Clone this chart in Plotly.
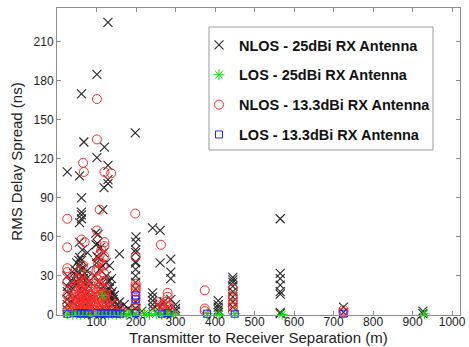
import plotly.graph_objects as go

# NLOS - 25dBi RX Antenna (black x)
nlos25_x = [129, 101, 62, 198, 68, 120, 101, 129, 26, 57, 129, 129, 119, 62, 116, 62, 62, 62, 57, 98,
            242, 261, 200, 64, 77, 158, 57, 133, 199, 199, 199, 261, 288, 288, 288,
            565, 565, 565, 565, 565, 565, 565, 565, 725, 725, 926, 926,
            445, 445, 445, 445, 445, 445, 445, 445, 408, 408, 408, 408, 408,
            242, 242, 242, 242, 242, 158, 158, 300, 300, 300,
            26, 26, 26, 26, 26, 26, 40, 45, 50, 50, 55, 57, 60, 62, 65, 66, 68, 70, 72, 75, 78, 80,
            85, 90, 95, 100, 101, 102, 105, 108, 110, 112, 115, 120, 125, 128, 130, 135, 138, 140,
            145, 150, 155, 165, 170, 180, 190, 199, 199, 199, 199, 199, 199, 215, 255, 260, 270,
            280, 288, 48, 52, 58, 63, 67, 73, 105, 110, 118, 124, 133, 137, 99, 104,
            30, 34, 38, 42, 46, 50, 54, 58, 62, 66, 70, 74, 78, 82, 86, 44, 56, 64, 76,
            112, 116, 120, 124, 128, 132, 136, 140, 144, 148, 122, 134, 142, 199, 199]
nlos25_y = [225, 185, 170, 140, 133, 129, 121, 115, 110, 107, 104, 101, 98, 90, 81, 79, 77, 74, 71, 63,
            67, 65, 60, 50, 48, 47, 56, 38, 56, 50, 41, 40, 43, 33, 28,
            74, 32, 28, 23, 18, 16, 2, 1, 6, 2, 3, 1,
            29, 27, 25, 22, 18, 14, 10, 6, 11, 8, 6, 4, 2,
            17, 14, 11, 8, 5, 10, 6, 8, 5, 3,
            30, 22, 18, 12, 8, 4, 20, 35, 40, 30, 42, 38, 35, 42, 30, 25, 36, 20, 15, 28, 10, 22,
            8, 12, 30, 40, 45, 55, 25, 35, 20, 15, 38, 22, 30, 18, 12, 22, 28, 8,
            15, 5, 4, 3, 8, 5, 3, 35, 30, 25, 20, 10, 5, 3, 8, 6, 10,
            5, 12, 26, 33, 44, 18, 28, 12, 44, 52, 48, 40, 26, 16, 54, 62,
            16, 26, 10, 32, 14, 24, 6, 20, 12, 28, 32, 8, 18, 26, 14, 24, 12, 6, 34,
            24, 12, 18, 8, 26, 20, 14, 18, 10, 6, 4, 16, 12, 40, 48]

# LOS - 25dBi RX Antenna (green asterisk)
los25_x = [26, 40, 50, 60, 70, 80, 100, 110, 116, 120, 130, 140, 150, 160, 175, 185, 200, 221,
           234, 251, 265, 280, 295, 380, 410, 450, 570, 930]
los25_y = [1, 0.5, 1, 0.5, 1, 0.5, 1, 0.5, 15, 1, 0.5, 1, 0.5, 1, 0.5, 1, 0.5, 1,
           0.5, 1, 0.5, 1, 0.5, 1, 0.5, 1, 0.5, 1]

# NLOS - 13.3dBi RX Antenna (red circle)
nlos13_x = [101, 101, 66, 68, 120, 137, 108, 198, 26, 101, 62, 70, 26, 120, 120, 112, 108, 26, 26,
            199, 263, 280, 280, 374, 374, 374, 445, 445, 445, 445, 445, 445, 725, 725,
            26, 26, 26, 26, 40, 45, 50, 50, 52, 55, 57, 58, 60, 62, 62, 65, 66, 68, 70, 70, 72, 75,
            75, 78, 80, 80, 85, 88, 95, 100, 100, 101, 103, 105, 106, 108, 110, 110, 112, 115, 116,
            118, 120, 120, 122, 125, 128, 130, 135, 140, 145, 150, 160, 170,
            199, 199, 199, 199, 199, 199, 199, 199, 199, 255, 260, 265, 270, 275, 280, 285, 290,
            53, 58, 64, 72, 77, 83, 104, 109, 114, 119, 124, 60, 66, 74,
            32, 36, 40, 44, 48, 52, 56, 60, 64, 68, 72, 76, 80, 84, 38, 46, 54, 62, 70, 78, 86,
            42, 50, 58, 66, 74, 82, 95, 98, 102, 106, 110, 114, 118, 122, 96, 104, 112, 120,
            100, 108, 116, 124, 90, 93, 97, 268, 274, 284]
nlos13_y = [166, 135, 117, 110, 110, 109, 81, 78, 74, 65, 58, 56, 52, 56, 53, 50, 46, 36, 33,
            45, 54, 17, 14, 19, 5, 3, 20, 15, 12, 9, 6, 3, 4, 2,
            25, 15, 8, 3, 10, 22, 18, 12, 6, 25, 15, 8, 30, 20, 4, 12, 38, 25, 18, 8, 3, 14,
            22, 6, 30, 12, 20, 5, 10, 28, 18, 6, 40, 35, 24, 14, 30, 4, 20, 10, 26,
            16, 45, 6, 12, 20, 8, 4, 12, 6, 3, 8, 4, 2,
            24, 22, 20, 18, 15, 12, 8, 5, 2, 5, 10, 8, 4, 10, 6, 3, 2,
            28, 34, 16, 26, 10, 16, 14, 22, 4, 32, 16, 2, 6, 2,
            12, 5, 16, 9, 3, 14, 20, 11, 5, 17, 10, 2, 7, 15, 20, 6, 10, 26, 13, 18, 10,
            2, 7, 4, 22, 6, 3, 4, 14, 2, 10, 16, 2, 9, 4, 20, 12, 7, 16,
            34, 42, 38, 10, 8, 16, 24, 6, 2, 7]

# LOS - 13.3dBi RX Antenna (blue square)
los13_x = [26, 50, 60, 70, 80, 100, 110, 120, 130, 140, 150, 160, 199, 199, 199, 265, 280,
           380, 450, 725]
los13_y = [1, 1.5, 1, 1.5, 1, 1.5, 1, 1.5, 1, 1.5, 1, 1, 15, 12, 1.5, 1, 1.5, 1, 1, 1]

x_ticks = [100, 200, 300, 400, 500, 600, 700, 800, 900, 1000]
y_ticks = [0, 30, 60, 90, 120, 150, 180, 210]

FONT = "Arial, Liberation Sans, sans-serif"
TXT = "#222222"

fig = go.Figure()
fig.add_trace(go.Scatter(x=nlos25_x, y=nlos25_y, mode="markers", name="NLOS - 25dBi RX Antenna",
                         marker=dict(symbol="x-thin-open", size=9, line=dict(width=1.1, color="#262626"),
                                     color="#262626"),
                         cliponaxis=False, legendrank=1, legendgroup="a"))
fig.add_trace(go.Scatter(x=nlos13_x, y=nlos13_y, mode="markers", name="NLOS - 13.3dBi RX Antenna",
                         marker=dict(symbol="circle-open", size=9, line=dict(width=1, color="#ff2a2a"),
                                     color="#ff2a2a"),
                         cliponaxis=False, legendrank=3, legendgroup="c"))
fig.add_trace(go.Scatter(x=los25_x, y=los25_y, mode="markers", name="LOS - 25dBi RX Antenna",
                         marker=dict(symbol="asterisk-open", size=9, line=dict(width=1, color="#00e000"),
                                     color="#00e000"),
                         cliponaxis=False, legendrank=2, legendgroup="b"))
fig.add_trace(go.Scatter(x=los13_x, y=los13_y, mode="markers", name="LOS - 13.3dBi RX Antenna",
                         marker=dict(symbol="square-open", size=7, line=dict(width=1, color="#2020ff"),
                                     color="#2020ff"),
                         cliponaxis=False, legendrank=4, legendgroup="d"))

axis_common = dict(showline=True, linecolor="#8c8c8c", linewidth=1, mirror="ticks",
                   ticks="inside", ticklen=4, tickcolor="#8c8c8c", showgrid=False, zeroline=False,
                   automargin=False,
                   tickfont=dict(family=FONT, size=12, color=TXT))

fig.update_layout(
    width=469, height=347,
    margin=dict(l=57, r=9, t=8, b=32, autoexpand=False),
    paper_bgcolor="white", plot_bgcolor="white",
    font=dict(family=FONT, color=TXT),
    xaxis=dict(range=[0, 1020], tickvals=x_ticks, ticklabelstandoff=-4, **axis_common),
    yaxis=dict(range=[0, 236], tickvals=y_ticks, title=dict(text="RMS Delay Spread (ns)",
               font=dict(size=15, family=FONT, color=TXT), standoff=7), **axis_common),
    legend=dict(x=(199 - 57) / 403, y=(315 - 29) / 307, xanchor="left", yanchor="top",
                bgcolor="rgba(0,0,0,0)", borderwidth=0, traceorder="grouped", tracegroupgap=8,
                itemwidth=30, font=dict(family=FONT, size=14.5, color="#111111")),
    showlegend=True,
    shapes=[dict(type="rect", xref="paper", yref="paper",
                 x0=(209 - 57) / 403, x1=(433 - 57) / 403,
                 y0=(315 - 150) / 307, y1=(315 - 27) / 307,
                 line=dict(color="#9a9a9a", width=1), fillcolor="white", layer="above")],
    annotations=[dict(text="Transmitter to Receiver Separation (m)", xref="paper", yref="paper",
                      x=0.5, y=-(337 - 315) / 307, xanchor="center", yanchor="middle",
                      showarrow=False, font=dict(size=15, family=FONT, color=TXT))],
)
for tr in fig.data:
    tr.name = "<b>" + tr.name + "</b>"

fig.write_html("out.html", config={"displayModeBar": False},
               post_script="document.body.style.margin='0';document.body.style.padding='0';"
                           "document.body.style.overflow='hidden';")
